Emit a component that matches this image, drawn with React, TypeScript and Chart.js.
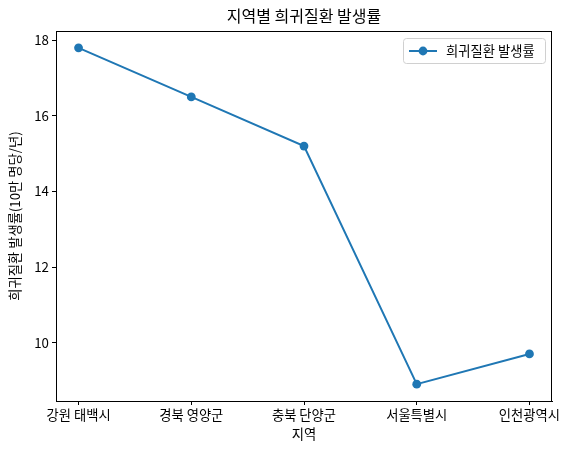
import React, { useEffect, useRef } from "react";
import { Chart, registerables } from "chart.js";

Chart.register(...registerables);

const regions = ["강원 태백시", "경북 영양군", "충북 단양군", "서울특별시", "인천광역시"];
const rates = [17.8, 16.5, 15.2, 8.9, 9.7];
const yTicks = [10, 12, 14, 16, 18];
const titleText = "지역별 희귀질환 발생률";
const seriesLabel = "희귀질환 발생률";
const xTitle = "지역";
const yTitle = "희귀질환 발생률(10만 명당/년)";

const FONT = '"Noto Sans CJK KR", "Noto Sans", sans-serif';
const BLUE = "#1f77b4";
const TICK = 13.3;
const TITLE = 16;

export default function App() {
  const ref = useRef<HTMLCanvasElement | null>(null);
  useEffect(() => {
    if (!ref.current) return;
    const decor = {
      id: "decor",
      afterDraw(chart: any) {
        const { ctx, chartArea } = chart;
        const { left, right, top, bottom } = chartArea;
        ctx.save();
        ctx.strokeStyle = "#000";
        ctx.lineWidth = 1;
        ctx.strokeRect(left + 0.5, top + 0.5, right - left - 1, bottom - top);
        ctx.fillStyle = "#000";
        ctx.textAlign = "center";
        ctx.textBaseline = "middle";
        ctx.font = `${TITLE}px ${FONT}`;
        ctx.fillText(titleText, (left + right) / 2, 16);
        ctx.font = `${TICK}px ${FONT}`;
        ctx.fillText(xTitle, (left + right) / 2, 434);
        ctx.save();
        ctx.translate(15, (top + bottom) / 2);
        ctx.rotate(-Math.PI / 2);
        ctx.fillText(yTitle, 0, 0);
        ctx.restore();
        // legend
        const bx = 403, by = 38, bw = 142, bh = 25;
        ctx.fillStyle = "rgba(255,255,255,0.8)";
        ctx.strokeStyle = "#d0d0d0";
        ctx.lineWidth = 1;
        ctx.beginPath();
        (ctx as any).roundRect(bx + 0.5, by + 0.5, bw, bh, 3);
        ctx.fill();
        ctx.stroke();
        const ly = by + bh / 2 + 0.5;
        ctx.strokeStyle = BLUE;
        ctx.lineWidth = 2;
        ctx.beginPath();
        ctx.moveTo(409, ly);
        ctx.lineTo(437, ly);
        ctx.stroke();
        ctx.fillStyle = BLUE;
        ctx.beginPath();
        ctx.arc(423, ly, 4.4, 0, Math.PI * 2);
        ctx.fill();
        ctx.fillStyle = "#000";
        ctx.textAlign = "left";
        ctx.font = `${TICK}px ${FONT}`;
        ctx.fillText(chart.data.datasets[0].label, 446, ly);
        ctx.restore();
      },
    };
    const chart = new Chart(ref.current, {
      type: "line",
      data: {
        datasets: [
          {
            label: seriesLabel,
            data: rates.map((v, i) => ({ x: i, y: v })),
            borderColor: BLUE,
            backgroundColor: BLUE,
            borderWidth: 2,
            pointRadius: 4.4,
            pointBorderWidth: 0,
            pointBackgroundColor: BLUE,
            tension: 0,
          },
        ],
      },
      options: {
        animation: false,
        responsive: false,
        layout: { padding: { top: 31, right: 19, bottom: 0, left: 0 } },
        plugins: { legend: { display: false }, title: { display: false }, tooltip: { enabled: false } },
        scales: {
          x: {
            type: "linear",
            min: -0.2,
            max: 4.2,
            afterBuildTicks: (s: any) => {
              s.ticks = regions.map((_, i) => ({ value: i }));
            },
            afterFit: (s: any) => {
              s.height = 53;
            },
            ticks: {
              callback: (v: any) => regions[Math.round(Number(v))] ?? "",
              color: "#000",
              font: { family: FONT, size: TICK },
              padding: 2,
              maxRotation: 0,
              autoSkip: false,
            },
            grid: { drawOnChartArea: false, drawTicks: true, tickLength: 4, color: "#000" },
            border: { display: true, color: "#000" },
          },
          y: {
            type: "linear",
            min: 8.455,
            max: 18.245,
            afterBuildTicks: (s: any) => {
              s.ticks = yTicks.map((v) => ({ value: v }));
            },
            afterFit: (s: any) => {
              s.width = 56;
            },
            ticks: {
              callback: (v: any) => String(v),
              color: "#000",
              font: { family: FONT, size: TICK },
              padding: 3,
            },
            grid: { drawOnChartArea: false, drawTicks: true, tickLength: 4, color: "#000" },
            border: { display: true, color: "#000" },
          },
        },
      },
      plugins: [decor],
    } as any);
    return () => chart.destroy();
  }, []);
  return (
    <canvas
      ref={ref}
      width={571}
      height={454}
      style={{ position: "absolute", left: 0, top: 0, width: 571, height: 454 }}
    />
  );
}
